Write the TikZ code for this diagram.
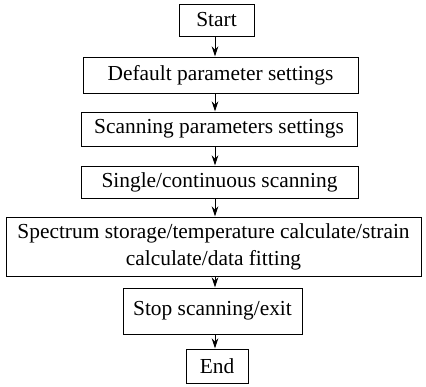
\documentclass[tikz,border=0pt]{standalone}
\usepackage{fontspec}
\setmainfont{Liberation Serif}
\usetikzlibrary{arrows.meta}
\begin{document}
\begin{tikzpicture}[x=1pt,y=-1pt,
  box/.style={draw,line width=1pt,inner sep=0pt,align=center,
    font=\fontsize{21.4}{27}\selectfont},
  arr/.style={line width=1pt,-{Stealth[length=10pt,width=6.5pt]}}]
\useasboundingbox[fill=white] (0,0) rectangle (426,386);
\coordinate (ax) at (215,0);
\node[box,minimum width=75pt,minimum height=32pt] (start) at (216.5,20) {Start};
\node[box,minimum width=275pt,minimum height=36pt] (def) at (220.5,75) {Default parameter settings};
\node[box,minimum width=276pt,minimum height=34pt] (scan) at (219,129) {Scanning parameters settings};
\node[box,minimum width=277pt,minimum height=32pt] (single) at (219.5,182) {Single/continuous scanning};
\node[box,minimum width=415pt,minimum height=59pt] (spec) at (213.5,246.5) {Spectrum storage/temperature calculate/strain\\calculate/data fitting};
\node[box,minimum width=179pt,minimum height=46pt] (stop) at (212.5,311) {Stop scanning/exit};
\node[box,minimum width=62pt,minimum height=34pt] (end) at (217,366) {End};
\draw[arr] (start.south -| ax) -- (def.north -| ax);
\draw[arr] (def.south -| ax) -- (scan.north -| ax);
\draw[arr] (scan.south -| ax) -- (single.north -| ax);
\draw[arr] (single.south -| ax) -- (spec.north -| ax);
\draw[arr] (spec.south -| ax) -- (stop.north -| ax);
\draw[arr] (stop.south -| ax) -- (end.north -| ax);
\end{tikzpicture}
\end{document}
